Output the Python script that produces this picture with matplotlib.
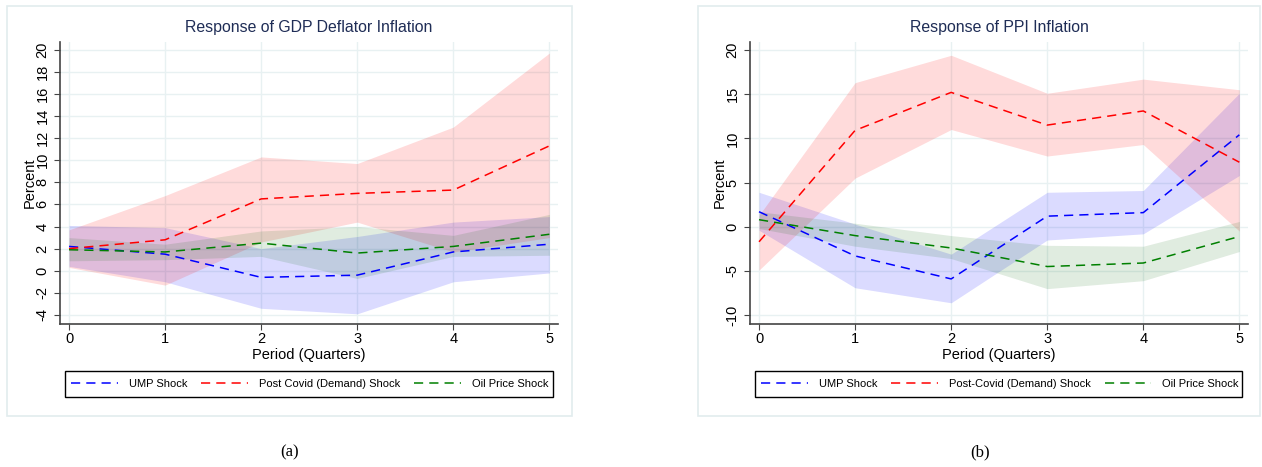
import numpy as np
import matplotlib.pyplot as plt
from matplotlib.patches import Rectangle

plt.rcParams['font.family'] = ['Liberation Sans', 'DejaVu Sans']
plt.rcParams['axes.unicode_minus'] = False

periods = [0, 1, 2, 3, 4, 5]

# GDP deflator inflation responses
gdp_ump = [2.2, 1.5, -0.6, -0.4, 1.7, 2.4]
gdp_ump_hi = [4.1, 3.9, 2.0, 3.1, 4.4, 4.9]
gdp_ump_lo = [0.4, -1.0, -3.4, -3.9, -1.0, -0.2]
gdp_dem = [2.0, 2.8, 6.5, 7.0, 7.3, 11.3]
gdp_dem_hi = [3.7, 6.8, 10.3, 9.7, 13.0, 19.7]
gdp_dem_lo = [0.3, -1.3, 2.6, 4.4, 1.7, 3.0]
gdp_oil = [1.9, 1.7, 2.5, 1.6, 2.2, 3.3]
gdp_oil_hi = [3.0, 2.4, 3.6, 4.0, 3.2, 5.1]
gdp_oil_lo = [0.9, 1.0, 1.3, -0.7, 1.3, 1.4]

# PPI inflation responses
ppi_ump = [1.7, -3.3, -5.9, 1.2, 1.6, 10.4]
ppi_ump_hi = [3.9, 0.3, -3.1, 3.9, 4.1, 15.1]
ppi_ump_lo = [-0.4, -6.9, -8.6, -1.5, -0.8, 5.8]
ppi_dem = [-1.7, 10.9, 15.2, 11.5, 13.1, 7.3]
ppi_dem_hi = [1.3, 16.3, 19.4, 15.1, 16.7, 15.5]
ppi_dem_lo = [-4.9, 5.5, 11.0, 8.0, 9.3, -0.5]
ppi_oil = [0.8, -1.0, -2.4, -4.5, -4.1, -1.1]
ppi_oil_hi = [1.7, 0.4, -1.0, -2.1, -2.2, 0.6]
ppi_oil_lo = [-0.2, -2.2, -3.6, -7.0, -6.1, -2.8]

W, H = 1262, 467
fig = plt.figure(figsize=(W / 100, H / 100), dpi=100)


def px(x, y, w, h):
    # pixel box (top-left origin) -> figure fraction
    return [x / W, 1 - (y + h) / H, w / W, h / H]


def box(x0, y0, x1, y1, color, lw):
    fig.patches.append(Rectangle((x0 / W, 1 - y1 / H), (x1 - x0) / W, (y1 - y0) / H,
                                 transform=fig.transFigure, fill=False,
                                 edgecolor=color, lw=lw))


# outer panel boxes
box(7, 6, 572, 416, '#e2ecee', 1.2)
box(698, 6, 1260, 416, '#e2ecee', 1.2)


def panel(left, title, ump, dem, oil, bands, ylim, yticks, labels, leg_x0, leg_x1):
    ax = fig.add_axes(px(left, 42, 498, 282))
    ump_hi, ump_lo, dem_hi, dem_lo, oil_hi, oil_lo = bands
    ax.fill_between(periods, ump_lo, ump_hi, color='#0000ff', alpha=0.14, lw=0)
    ax.fill_between(periods, dem_lo, dem_hi, color='#ff0000', alpha=0.14, lw=0)
    ax.fill_between(periods, oil_lo, oil_hi, color='#006400', alpha=0.12, lw=0)
    l1, = ax.plot(periods, ump, color='#0000ff', ls=(0, (6, 4)), lw=1.1)
    l2, = ax.plot(periods, dem, color='#ff0000', ls=(0, (6, 4)), lw=1.1)
    l3, = ax.plot(periods, oil, color='#008000', ls=(0, (6, 4)), lw=1.1)
    ax.set_xlim(-0.094, 5.09)
    ax.set_ylim(*ylim)
    ax.set_xticks(periods)
    ax.set_yticks(yticks)
    ax.tick_params(axis='y', labelrotation=90, labelsize=10.5, length=4, color='#444')
    ax.tick_params(axis='x', labelsize=10.5, length=4, color='#444', pad=2)
    for lab in ax.get_yticklabels():
        lab.set_va('center')
    ax.grid(True, color='#e8f1f2', lw=1)
    ax.set_axisbelow(True)
    for s in ['top', 'right']:
        ax.spines[s].set_visible(False)
    for s in ['left', 'bottom']:
        ax.spines[s].set_color('#444')
        ax.spines[s].set_linewidth(1.2)
    ax.set_title(title, color='#1f2d56', fontsize=11.4, pad=7)
    ax.set_xlabel('Period (Quarters)', fontsize=10.5, labelpad=1)
    ax.set_ylabel('Percent', fontsize=10.5, labelpad=-1)
    # legend: frameless entries + a drawn frame box
    fig.legend([l1, l2, l3], labels, loc='center left',
               bbox_to_anchor=((leg_x0 + 6) / W, 1 - 384 / H),
               ncol=3, fontsize=8, frameon=False, handlelength=4.2,
               borderaxespad=0, borderpad=0, handletextpad=1.0, columnspacing=1.25)
    box(leg_x0, 371, leg_x1, 397, 'black', 1)
    return ax


panel(60, 'Response of GDP Deflator Inflation', gdp_ump, gdp_dem, gdp_oil,
      (gdp_ump_hi, gdp_ump_lo, gdp_dem_hi, gdp_dem_lo, gdp_oil_hi, gdp_oil_lo),
      (-4.82, 20.7), np.arange(-4, 21, 2),
      ['UMP Shock', 'Post Covid (Demand) Shock', 'Oil Price Shock'], 65, 553)
panel(750, 'Response of PPI Inflation', ppi_ump, ppi_dem, ppi_oil,
      (ppi_ump_hi, ppi_ump_lo, ppi_dem_hi, ppi_dem_lo, ppi_oil_hi, ppi_oil_lo),
      (-11.0, 20.9), np.arange(-10, 21, 5),
      ['UMP Shock', 'Post-Covid (Demand) Shock', 'Oil Price Shock'], 755, 1242)

fig.text(290 / W, 1 - 452 / H, '(a)', ha='center', va='center', fontsize=12,
         family=['Liberation Serif', 'DejaVu Serif'])
fig.text(980 / W, 1 - 452 / H, '(b)', ha='center', va='center', fontsize=12,
         family=['Liberation Serif', 'DejaVu Serif'])

fig.savefig('out.png', dpi=100)
